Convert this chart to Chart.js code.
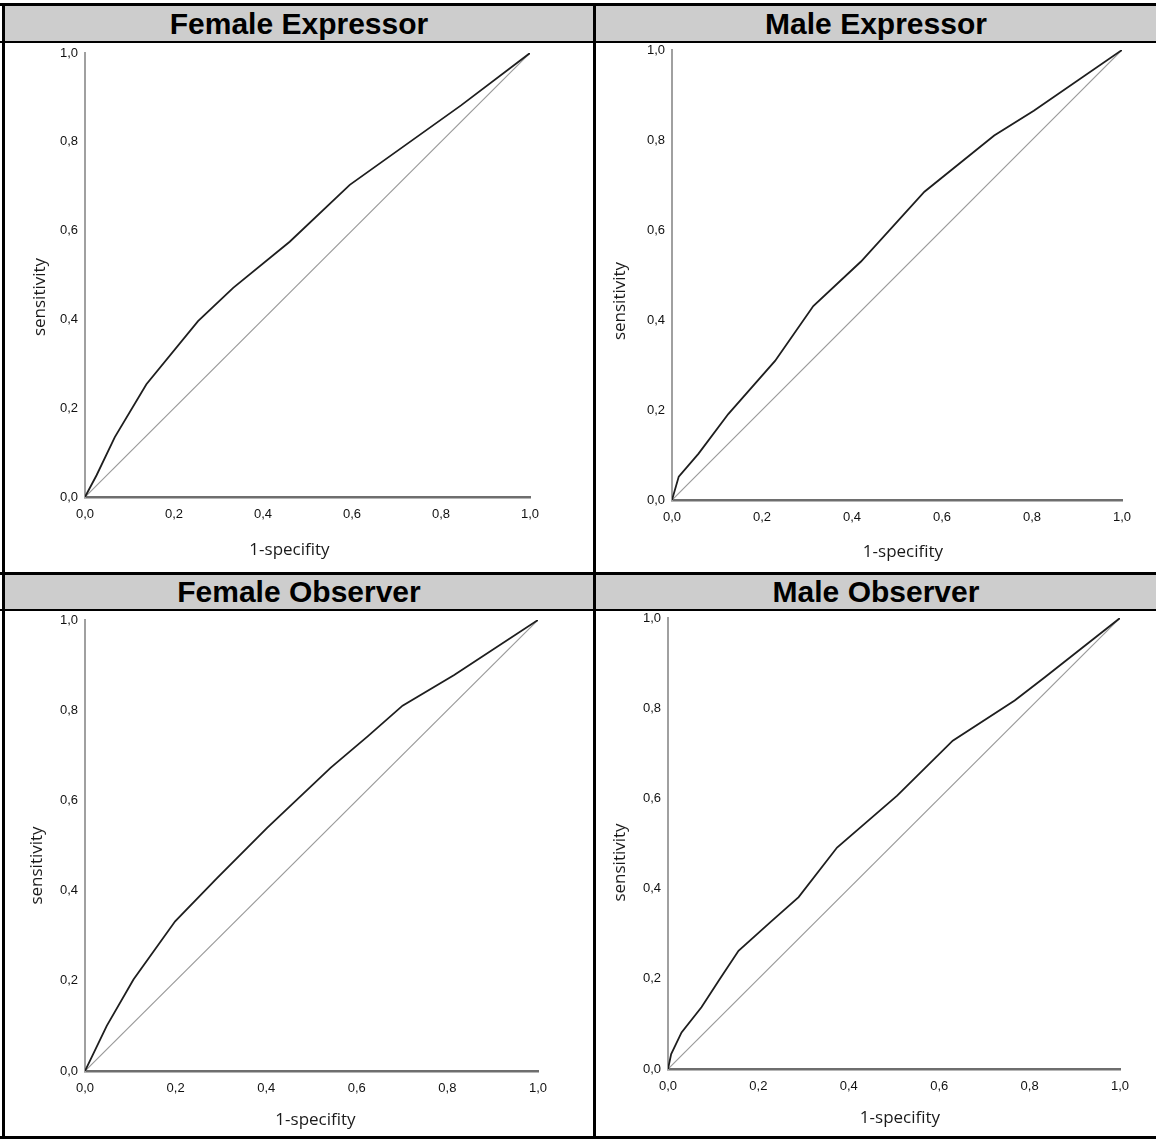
<!DOCTYPE html>
<html>
<head>
<meta charset="utf-8">
<script src="https://cdn.jsdelivr.net/npm/chart.js@4.4.1/dist/chart.umd.min.js"></script>
<style>
  body { margin: 0; background: #fff; }
  #page { position: relative; width: 1156px; height: 1140px; overflow: hidden; background: #fff; }
  .line { position: absolute; background: #000; }
  .header {
    position: absolute; background: #cdcdcd; color: #000;
    font: bold 30px "Liberation Sans", Arial, sans-serif;
    display: flex; align-items: center; justify-content: center;
  }
  canvas { position: absolute; }
</style>
</head>
<body>
<div id="page">
  <div class="header" style="left:5px;top:6px;width:588px;height:35px;">Female Expressor</div>
  <div class="header" style="left:596px;top:6px;width:560px;height:35px;">Male Expressor</div>
  <div class="header" style="left:5px;top:575px;width:588px;height:34px;">Female Observer</div>
  <div class="header" style="left:596px;top:575px;width:560px;height:34px;">Male Observer</div>

  <div class="line" style="left:0;top:3px;width:1156px;height:3px;"></div>
  <div class="line" style="left:0;top:41px;width:1156px;height:2px;"></div>
  <div class="line" style="left:0;top:572px;width:1156px;height:3px;"></div>
  <div class="line" style="left:0;top:609px;width:1156px;height:2px;"></div>
  <div class="line" style="left:0;top:1136px;width:1156px;height:3px;"></div>
  <div class="line" style="left:2px;top:3px;width:3px;height:1136px;"></div>
  <div class="line" style="left:593px;top:3px;width:3px;height:1136px;"></div>

  <canvas id="feExp" width="588" height="529" style="left:5px;top:43px;"></canvas>
  <canvas id="maExp" width="560" height="529" style="left:596px;top:43px;"></canvas>
  <canvas id="feObs" width="588" height="525" style="left:5px;top:611px;"></canvas>
  <canvas id="maObs" width="560" height="525" style="left:596px;top:611px;"></canvas>
</div>

<script>
// ROC curves (1-specificity, sensitivity)
const feExpX = [0, 0.026, 0.067, 0.138, 0.254, 0.333, 0.46, 0.595, 0.845, 1];
const feExpY = [0, 0.049, 0.135, 0.254, 0.396, 0.471, 0.575, 0.703, 0.882, 1];

const maExpX = [0, 0.015, 0.059, 0.125, 0.229, 0.314, 0.42, 0.561, 0.716, 0.804, 1];
const maExpY = [0, 0.052, 0.103, 0.191, 0.309, 0.431, 0.53, 0.685, 0.81, 0.865, 1];

const feObsX = [0, 0.048, 0.107, 0.199, 0.292, 0.402, 0.542, 0.624, 0.701, 0.815, 1];
const feObsY = [0, 0.1, 0.203, 0.332, 0.428, 0.539, 0.672, 0.742, 0.81, 0.878, 1];

const maObsX = [0, 0.007, 0.03, 0.074, 0.115, 0.156, 0.226, 0.289, 0.374, 0.507, 0.63, 0.767, 0.833, 1];
const maObsY = [0, 0.033, 0.081, 0.137, 0.2, 0.262, 0.325, 0.381, 0.491, 0.606, 0.728, 0.817, 0.868, 1];

const refX = [0, 1];
const refY = [0, 1];

const xTitle = '1-specifity';
const yTitle = 'sensitivity';

const fmt = (v) => v.toFixed(1).replace('.', ',');

// axis titles drawn relative to the chart area
const axisTitles = {
    id: 'axisTitles',
    afterDraw(chart, args, opts) {
        const { ctx, chartArea: a } = chart;
        ctx.save();
        ctx.font = '17px "Open Sans", sans-serif';
        ctx.fillStyle = '#1a1a1a';
        ctx.textAlign = 'center';
        ctx.textBaseline = 'middle';
        ctx.fillText(xTitle, (a.left + a.right) / 2 + opts.xdx, a.bottom + opts.xdy);
        ctx.translate(a.left + opts.ydx, (a.top + a.bottom) / 2 + opts.ydy);
        ctx.rotate(-Math.PI / 2);
        ctx.fillText(yTitle, 0, 0);
        ctx.restore();
    }
};

function makePanel(id, xs, ys, box) {
    const pts = (px, py) => px.map((x, i) => ({ x: x, y: py[i] }));
    const tickFont = { family: '"Liberation Sans", Arial, sans-serif', size: 13 };

    new Chart(document.getElementById(id), {
        type: 'line',
        data: {
            datasets: [
                {
                    data: pts(xs, ys),
                    borderColor: '#1e1e1e',
                    borderWidth: 1.8,
                    pointRadius: 0,
                    tension: 0,
                    order: 1,
                },
                {
                    data: pts(refX, refY),
                    borderColor: '#9a9a9a',
                    borderWidth: 1.2,
                    pointRadius: 0,
                    tension: 0,
                    order: 2,
                },
            ],
        },
        options: {
            responsive: false,
            animation: false,
            devicePixelRatio: 1,
            layout: { padding: { left: 0, right: box.right, top: box.top, bottom: 0 } },
            plugins: {
                legend: { display: false },
                tooltip: { enabled: false },
                axisTitles: box.titles,
            },
            scales: {
                x: {
                    type: 'linear',
                    min: 0,
                    max: 1,
                    grid: { display: false, drawTicks: false },
                    border: { display: true, color: '#6e6e6e', width: 2.5 },
                    ticks: {
                        stepSize: 0.2,
                        padding: 10,
                        color: '#111',
                        font: tickFont,
                        maxRotation: 0,
                        autoSkip: false,
                        callback: fmt,
                    },
                    afterFit: (s) => { s.height = box.xh; },
                },
                y: {
                    type: 'linear',
                    min: 0,
                    max: 1,
                    grid: { display: false, drawTicks: false },
                    border: { display: true, color: '#a0a0a0', width: 2 },
                    ticks: {
                        stepSize: 0.2,
                        padding: 7,
                        color: '#111',
                        font: tickFont,
                        callback: fmt,
                    },
                    afterFit: (s) => {
                        s.width = box.yw;
                        s.paddingTop = 0;
                        s.paddingBottom = 0;
                    },
                },
            },
        },
        plugins: [axisTitles],
    });
}

makePanel('feExp', feExpX, feExpY, { yw: 80, xh: 75, right: 63, top: 10,
    titles: { xdx: -18, xdy: 53, ydx: -45, ydy: 22 } });
makePanel('maExp', maExpX, maExpY, { yw: 76, xh: 72, right: 34, top: 7,
    titles: { xdx: 6, xdy: 52, ydx: -52, ydy: 26 } });
makePanel('feObs', feObsX, feObsY, { yw: 80, xh: 65, right: 55, top: 9,
    titles: { xdx: 4, xdy: 49, ydx: -48, ydy: 20 } });
makePanel('maObs', maObsX, maObsY, { yw: 72, xh: 67, right: 36, top: 7,
    titles: { xdx: 6, xdy: 49, ydx: -48, ydy: 19 } });
</script>
</body>
</html>
